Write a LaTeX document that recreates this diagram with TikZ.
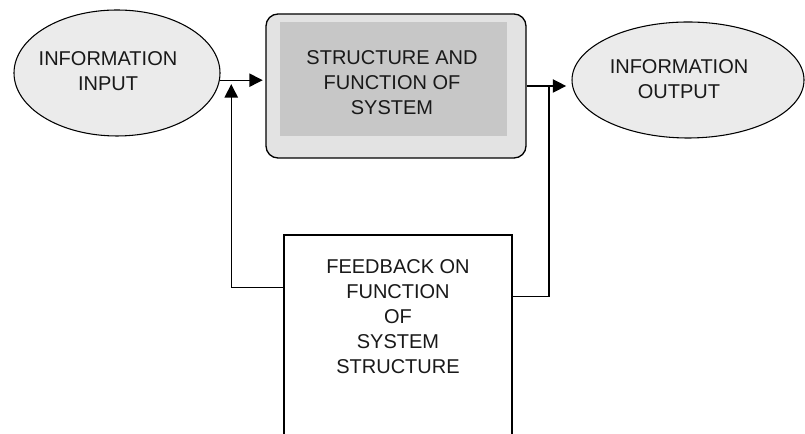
\documentclass[tikz,border=0pt]{standalone}
\usepackage{fontspec}
\setmainfont{Liberation Sans}
\usetikzlibrary{arrows.meta, calc, shapes.geometric}
\definecolor{ovalgray}{rgb}{0.92,0.92,0.92}
\definecolor{boxgray}{rgb}{0.89,0.89,0.89}
\definecolor{innergray}{rgb}{0.78,0.78,0.78}
\tikzset{ %框和线
    oval/.style={draw, ellipse, fill=ovalgray, inner sep=0pt, line width=0.8pt},
    sysbox/.style={draw, rounded corners=9pt, fill=boxgray, inner sep=0pt, line width=1pt},
    fbbox/.style={draw, fill=white, inner sep=0pt, line width=1pt},
    lbl/.style={align=center, font=\fontsize{15pt}{18.75pt}\selectfont, text=black!90},
    arr/.style={-{Triangle[length=10pt,width=10pt]}, line width=1pt},
    link/.style={line width=1pt},
}

\begin{document}
\begin{tikzpicture}[x=0.75pt, y=0.75pt]
			\clip (0,0) rectangle (805,434);
			\useasboundingbox (0,0) rectangle (805,434);
			% 输入 / 输出
			\node[oval, minimum width=154.5pt, minimum height=94.5pt] (in) at (117,361) {};
			\node[oval, minimum width=174pt, minimum height=87pt] (out) at (688,354) {};
			\node[lbl] (intext) at (108,363) {INFORMATION\\INPUT};
			\node[lbl] (outtext) at (679,355) {INFORMATION\\OUTPUT};
			% 系统
			\node[sysbox, minimum width=195pt, minimum height=108pt] (sys) at (396,348) {};
			\fill[innergray] (280,298) rectangle (507,412);
			\node[lbl] (systext) at (392,351) {STRUCTURE AND\\FUNCTION OF\\SYSTEM};
			% 反馈
			\node[fbbox, minimum width=171pt, minimum height=168.75pt] (fb) at (398,86.5) {};
			\node[lbl] (fbtext) at (398,117) {FEEDBACK ON\\FUNCTION\\OF\\SYSTEM\\STRUCTURE};
			\draw[arr, shorten >=2pt] (in.-4) -- (in.-4 -| sys.west);
			\draw[arr, shorten >=4pt] (sys.east) -- (sys.east -| out.west);
			\draw[arr, shorten >=3pt] ($(fb.north west)+(0,-53)$) -| ($(in.-4)!0.25!(in.-4 -| sys.west)$);
			\draw[link] ($(fb.north east)+(0,-62)$) -| ($(sys.east)!0.5!(sys.east -| out.west)$);
		\end{tikzpicture}
\end{document}
